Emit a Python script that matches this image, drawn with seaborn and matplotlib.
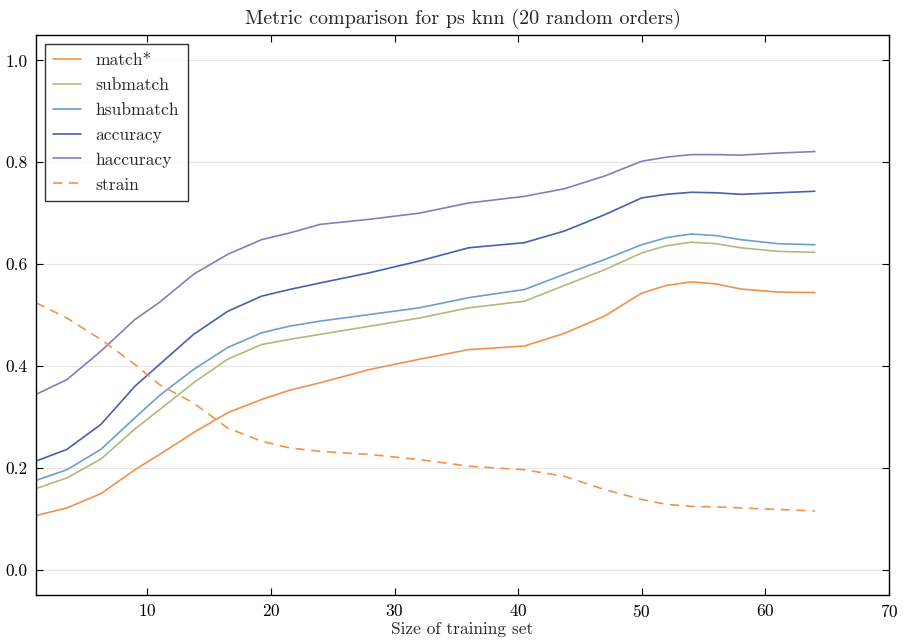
import matplotlib
matplotlib.use("Agg")
import matplotlib.pyplot as plt
import seaborn as sns
import pandas as pd

sizes = [1, 3.5, 6.25, 9, 11, 13.75, 16.5, 19.25, 21.5, 24, 28, 32, 36, 40.5, 43.75, 47, 50, 52, 54, 56, 58, 61, 64]
match_star = [.106, .121, .149, .196, .226, .269, .308, .334, .352, .367, .393, .413, .432, .439, .464, .498, .543, .558, .565, .561, .551, .545, .544]
submatch = [.159, .180, .217, .276, .314, .367, .413, .442, .452, .462, .478, .494, .514, .527, .558, .589, .622, .636, .643, .640, .632, .625, .623]
hsubmatch = [.175, .196, .236, .298, .342, .393, .436, .465, .478, .488, .501, .514, .534, .550, .580, .609, .638, .652, .659, .656, .648, .640, .638]
accuracy = [.213, .236, .285, .360, .403, .462, .507, .537, .550, .563, .583, .606, .632, .642, .665, .697, .730, .737, .741, .740, .737, .740, .743]
haccuracy = [.344, .373, .429, .491, .525, .580, .619, .648, .661, .678, .688, .700, .720, .733, .748, .773, .802, .810, .815, .815, .814, .818, .821]
strain = [.524, .494, .452, .403, .363, .327, .278, .252, .239, .232, .226, .216, .203, .196, .183, .157, .1375, .128, .124, .123, .121, .118, .115]

series = [
    ("match*", match_star, "#f0924b", False),
    ("submatch", submatch, "#a8bf7c", False),
    ("hsubmatch", hsubmatch, "#6a9fd0", False),
    ("accuracy", accuracy, "#4a5fae", False),
    ("haccuracy", haccuracy, "#8c7ab8", False),
    ("strain", strain, "#f0924b", True),
]

sns.set_style("white")
plt.rcParams["font.family"] = ["cmr10", "DejaVu Serif"]
plt.rcParams["mathtext.fontset"] = "cm"
plt.rcParams["axes.formatter.use_mathtext"] = True

fig = plt.figure(figsize=(9.06, 6.44), dpi=100)
ax = fig.add_axes([0.0397, 0.0761, 0.9416, 0.8696])

for name, vals, color, dashed in series:
    df = pd.DataFrame({"size": sizes, "value": vals})
    line_ax = sns.lineplot(data=df, x="size", y="value", ax=ax, color=color,
                           linewidth=1.2, label=name)
    if dashed:
        line_ax.lines[-1].set_dashes((5.5, 4))

ax.set_xlim(1, 70)
ax.set_ylim(-0.05, 1.05)
ax.set_xticks([10, 20, 30, 40, 50, 60, 70])
ax.set_yticks([0.0, 0.2, 0.4, 0.6, 0.8, 1.0])
ax.set_yticklabels(["0.0", "0.2", "0.4", "0.6", "0.8", "1.0"])
ax.yaxis.grid(True, color="#e6e6e6", linewidth=0.8)
ax.xaxis.grid(False)
ax.set_axisbelow(True)
for sp in ax.spines.values():
    sp.set_color("black")
    sp.set_linewidth(1.0)
ax.tick_params(direction="in", length=5, width=0.8, top=True, right=True,
               bottom=True, left=True, labelsize=12.5, colors="black", pad=6)
ax.set_xlabel("Size of training set", fontsize=12.5, labelpad=1)
ax.set_ylabel("")
ax.set_title("Metric comparison for ps knn (20 random orders)", fontsize=14.5, pad=8)

leg = ax.legend(loc="upper left", fontsize=12.6, frameon=True, fancybox=False,
                edgecolor="black", handlelength=1.55, borderpad=0.5,
                labelspacing=0.55, handletextpad=0.85, borderaxespad=0.5)
leg.get_frame().set_linewidth(1.0)

fig.savefig("out.png", dpi=100)
